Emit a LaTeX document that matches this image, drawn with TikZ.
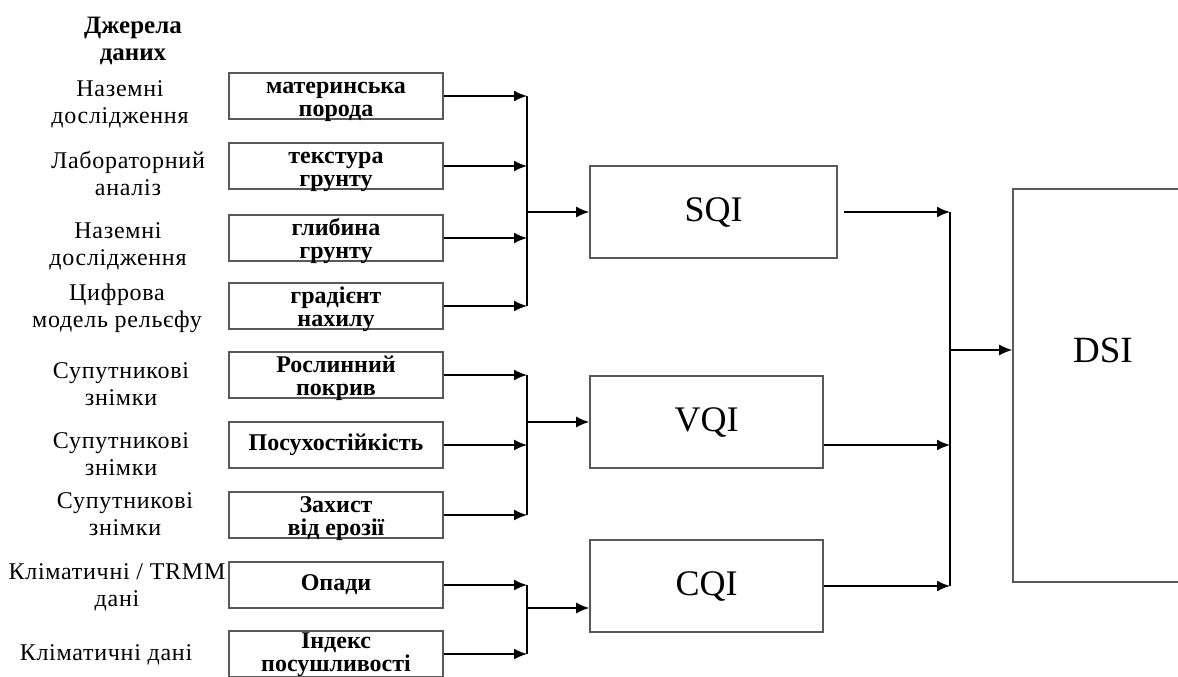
\documentclass[tikz,border=0pt]{standalone}
\usepackage{fontspec}
\setmainfont{Liberation Serif}
\newfontfamily\widefont[LetterSpace=3]{Liberation Serif}
\usetikzlibrary{arrows.meta}

\tikzset{
  factor/.style={draw=black!65, line width=1.6pt, minimum width=214pt,
    minimum height=46pt, inner sep=0pt, align=center,
    font=\fontsize{24}{23}\selectfont\bfseries},
  twoline/.style={text height=41pt, text depth=0pt},
  source/.style={align=center, inner sep=0pt,
    font=\widefont\fontsize{24}{27}\selectfont},
  index/.style={draw=black!65, line width=1.6pt, minimum width=233pt,
    minimum height=92pt, inner sep=0pt, font=\fontsize{36}{40}\selectfont},
  feed/.style={line width=1.6pt, -{Latex[length=13pt,width=11pt]}},
  bus/.style={line width=1.6pt}
}

\begin{document}
\begin{tikzpicture}[x=1pt,y=-1pt]
  \clip (0,0) rectangle (1178,677);
  % data sources
  \node[source, font=\bfseries\fontsize{25}{27}\selectfont] (head) at (133,41) {Джерела\\даних};
  \node[source] (src1) at (120,104.5) {Наземні\\дослідження};
  \node[source] (src2) at (128,173.5) {Лабораторний\\аналіз};
  \node[source] (src3) at (118,246.5) {Наземні\\дослідження};
  \node[source] (src4) at (117,308) {Цифрова\\модель рельєфу};
  \node[source] (src5) at (121,384.5) {Супутникові\\знімки};
  \node[source] (src6) at (121,454) {Супутникові\\знімки};
  \node[source] (src7) at (125,514) {Супутникові\\знімки};
  \node[source] (src8) at (117,587) {Кліматичні / TRMM\\дані};
  \node[source] (src9) at (106,655) {Кліматичні дані};

  % factors
  \node[factor, twoline] (mat) at (336,96) {материнська\\порода};
  \node[factor, twoline] (tex) at (336,166) {текстура\\грунту};
  \node[factor, twoline] (gli) at (336,238) {глибина\\грунту};
  \node[factor, twoline] (nah) at (336,306) {градієнт\\нахилу};
  \node[factor, twoline] (ros) at (336,375) {Рослинний\\покрив};
  \node[factor] (pos) at (336,445) {Посухостійкість};
  \node[factor, twoline] (zah) at (336,515) {Захист\\від ерозії};
  \node[factor] (opa) at (336,585) {Опади};
  \node[factor, twoline, text height=35pt] (ind) at (336,654) {Індекс\\посушливості};

  % indices
  \node[index, minimum width=247pt] (sqi) at (713.5,212) {SQI};
  \node[index] (vqi) at (706.5,422) {VQI};
  \node[index] (cqi) at (706.5,586) {CQI};
  \node[index, minimum width=180pt, minimum height=393pt] (dsi) at (1103,385.5) {};
  \node[font=\fontsize{37}{40}\selectfont] (dsitext) at (1103,350) {DSI};

  % buses
  \coordinate (sbus) at (527,212);
  \coordinate (vbus) at (527,422);
  \coordinate (cbus) at (527,608);
  \coordinate (dbus) at (950,350);
  \coordinate (vout) at ([yshift=-23pt]vqi.east);

  \foreach \f in {mat,tex,gli,nah}
    \draw[feed] (\f.east) -- (\f.east -| sbus);
  \draw[bus] (sbus |- mat.east) -- (sbus |- nah.east);
  \draw[feed] (sbus) -- (sbus -| sqi.west);

  \foreach \f in {ros,pos,zah}
    \draw[feed] (\f.east) -- (\f.east -| vbus);
  \draw[bus] (vbus |- ros.east) -- (vbus |- zah.east);
  \draw[feed] (vbus) -- (vbus -| vqi.west);

  \foreach \f in {opa,ind}
    \draw[feed] (\f.east) -- (\f.east -| cbus);
  \draw[bus] (cbus |- opa.east) -- (cbus |- ind.east);
  \draw[feed] (cbus) -- (cbus -| cqi.west);

  \draw[feed] ([xshift=6pt]sqi.east) -- (sqi.east -| dbus);
  \draw[feed] (vout) -- (vout -| dbus);
  \draw[feed] (cqi.east) -- (cqi.east -| dbus);
  \draw[bus] (dbus |- sqi.east) -- (dbus |- cqi.east);
  \draw[feed] (dbus) -- (dbus -| dsi.west);
\end{tikzpicture}
\end{document}
